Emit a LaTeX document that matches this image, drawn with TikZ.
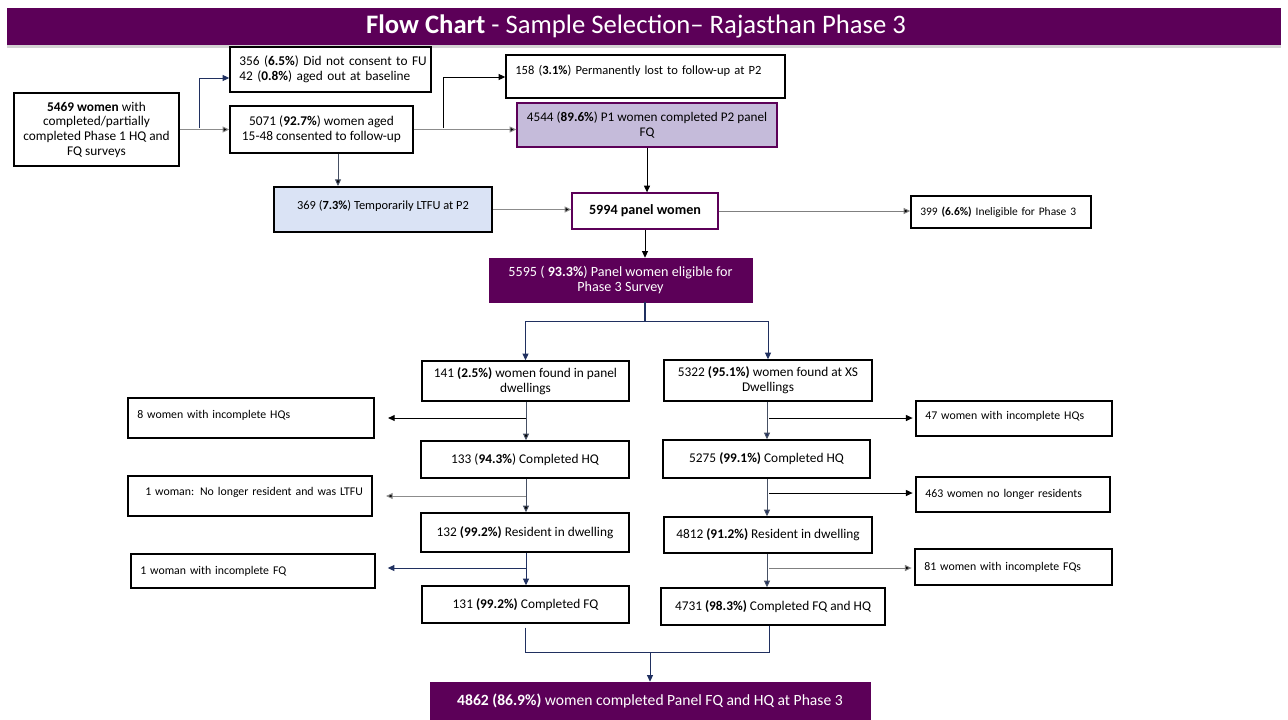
\documentclass[tikz,border=0pt]{standalone}
\usepackage{fontspec}
\setmainfont{Carlito}
\usetikzlibrary{arrows.meta,shadows}
\definecolor{pur}{RGB}{92,0,88}
\definecolor{lav}{RGB}{197,187,218}
\definecolor{lblue}{RGB}{218,227,245}
\definecolor{navy}{RGB}{32,48,96}
\definecolor{lgray}{RGB}{140,140,140}
\definecolor{dgray}{RGB}{70,80,100}
% centred box: lines broken only at \\
\newcommand\bx[7]{%
\pgfmathsetmacro\bxw{(#4-#2)*0.75}%
\pgfmathsetmacro\bxh{(#5-#3)*0.75}%
\node[#6, minimum width=\bxw pt, minimum height=\bxh pt, align=center] (#1) at ({(#2+#4)/2},{(#3+#5)/2}) {#7};}
% left-aligned box (each line kept whole)
\newcommand\bxl[7]{%
\pgfmathsetmacro\bxw{(#4-#2)*0.75}%
\pgfmathsetmacro\bxh{(#5-#3)*0.75}%
\pgfmathsetmacro\bxt{(#4-#2)*0.75-14}%
\node[#6, minimum width=\bxw pt, minimum height=\bxh pt, text width=\bxt pt, align=left] (#1) at ({(#2+#4)/2},{(#3+#5)/2}) {#7};}
\tikzset{
  box/.style={draw=black, line width=1.1pt, fill=white, inner xsep=7pt, inner ysep=1pt},
  pbox/.style={draw=pur, line width=1pt, fill=white, inner xsep=7pt, inner ysep=1pt},
  dbox/.style={draw=pur, fill=pur, text=white, inner xsep=7pt, inner ysep=1pt},
  fa/.style={font=\fontsize{10}{11}\selectfont},
  fb/.style={font=\fontsize{8.85}{10}\selectfont},
  fc/.style={font=\fontsize{8.6}{10}\selectfont},
  fd/.style={font=\fontsize{10.6}{11.5}\selectfont},
  con/.style={line width=0.75pt, -{Triangle[length=5pt,width=4.5pt]}},
  ln/.style={line width=0.75pt},
}
\begin{document}
\begin{tikzpicture}[x=0.75pt,y=-0.75pt]
\useasboundingbox (0,0) rectangle (1288,719);
% title
\bx{title}{7}{8}{1281}{45}{draw=none, fill=pur, text=white, inner xsep=7pt, drop shadow={opacity=0.35, shadow xshift=0pt, shadow yshift=-2pt}, font=\fontsize{20}{22}\selectfont}{\textbf{Flow Chart} - Sample Selection– Rajasthan Phase 3\hspace*{12pt}}
% top nodes
\bx{A}{14}{93}{179}{166}{box,fa}{\textbf{5469 women} with\\completed/partially\\completed Phase 1 HQ and\\FQ surveys}
\bxl{B}{230}{47}{431}{92}{box,fa}{\mbox{356 (\textbf{6.5\%}) Did not consent to FU}\\\mbox{42 (\textbf{0.8\%}) aged out at baseline}}
\bx{C}{230}{106}{413}{153}{box,fa}{5071 (\textbf{92.7\%}) women aged\\15-48 consented to follow-up}
\bxl{D}{506}{55}{785}{98}{box,text depth=9.5pt,font=\fontsize{9.4}{11}\selectfont}{\mbox{158 (\textbf{3.1\%}) Permanently lost to follow-up at P2}}
\bx{E}{517}{103}{777}{147}{draw=pur, line width=1pt, fill=lav, inner xsep=2pt, inner ysep=1pt, font=\fontsize{9.9}{11}\selectfont}{4544 (\textbf{89.6\%}) P1 women completed P2 panel\\FQ}
\bx{F}{274}{187}{492}{232}{draw=black, line width=1.5pt, fill=lblue, inner xsep=7pt, inner ysep=1pt, text depth=7pt, font=\fontsize{9.3}{10}\selectfont}{369 (\textbf{7.3\%}) Temporarily LTFU at P2}
\bx{G}{572}{193}{718}{229}{pbox,fd}{\textbf{5994 panel women}}
\bxl{H}{911}{196}{1091}{228}{box,fc}{\mbox{399 \textbf{(6.6\%)} Ineligible for Phase 3}}
\bx{I}{489}{258}{752}{302}{dbox,fd}{5595 ( \textbf{93.3\%}) Panel women eligible for\\Phase 3 Survey}
% left column
\bx{L1}{422}{361}{629}{401}{box,fa}{141 \textbf{(2.5\%)} women found in panel\\dwellings}
\bx{L2}{421}{441}{629}{478}{box,fa}{133 (\textbf{94.3\%}) Completed HQ}
\bx{L3}{421}{513}{629}{552}{box,fa}{132 \textbf{(99.2\%)} Resident in dwelling}
\bx{L4}{422}{586}{629}{623}{box,fa}{131 \textbf{(99.2\%)} Completed FQ}
\bxl{LS1}{128}{398}{374}{438}{box,fb,text depth=6pt}{\mbox{8 women with incomplete HQs}}
\bxl{LS2}{128}{476}{372}{516}{box,fb,text depth=6.5pt}{\mbox{\hspace*{6pt}1 woman: No longer resident and was LTFU}}
\bxl{LS3}{131}{554}{375}{588}{box,fb}{\mbox{1 woman with incomplete FQ}}
% right column
\bx{R1}{664}{360}{872}{401}{box,fa}{5322 \textbf{(95.1\%)} women found at XS\\Dwellings}
\bx{R2}{663}{440}{870}{478}{box,fa}{5275 \textbf{(99.1\%)} Completed HQ}
\bx{R3}{664}{517}{872}{553}{box,fa}{4812 \textbf{(91.2\%)} Resident in dwelling}
\bx{R4}{661}{588}{885}{625}{box,fa}{4731 \textbf{(98.3\%)} Completed FQ and HQ}
\bxl{RS1}{916}{401}{1112}{436}{box,fb,text depth=4.5pt}{\mbox{47 women with incomplete HQs}}
\bxl{RS2}{916}{477}{1110}{512}{box,fb}{\mbox{463 women no longer residents}}
\bxl{RS3}{915}{549}{1112}{585}{box,fb}{\mbox{81 women with incomplete FQs}}
% final
\bx{FIN}{430}{682}{870}{719}{dbox,font=\fontsize{11.7}{12.5}\selectfont}{\textbf{4862 (86.9\%)} women completed Panel FQ and HQ at Phase 3}
% helper coordinates
\coordinate (jA) at (199,128);
\coordinate (yB) at (0,78);
\coordinate (xC) at (338,0);
\coordinate (jC) at (443,128);
\coordinate (yD) at (0,77);
\coordinate (br) at (645,321);
\coordinate (xL) at (526,0);
\coordinate (jL1) at (526,418);
\coordinate (jL2) at (526,496);
\coordinate (jL3) at (526,568);
\coordinate (xR) at (767,0);
\coordinate (jR1) at (769,418);
\coordinate (jR2) at (769,493);
\coordinate (jR3) at (769,568);
\coordinate (mg) at (650,652);
\coordinate (mr) at (769,652);
% connectors top
\draw[con, draw=lgray, -{Triangle[length=5pt,width=4.5pt,fill=black]}] (A.east) -- (C.west);
\draw[con, navy] (jA) |- (B.west |- yB);
\draw[con, draw=dgray, -{Triangle[length=5pt,width=4.5pt,fill=black]}] (C.south -| xC) -- (F.north -| xC);
\draw[con, draw=lgray, -{Triangle[length=5pt,width=4.5pt,fill=black]}] (C.east) -- (E.west |- C.east);
\draw[con, black] (jC) |- (D.west |- yD);
\draw[con, black] (E.south) -- (E.south |- G.north);
\draw[con, draw=lgray, -{Triangle[length=5pt,width=4.5pt,fill=black]}] (F.east) -- (G.west |- F.east);
\draw[con, draw=gray, -{Triangle[length=5pt,width=4.5pt,fill=black]}] (G.east) -- (H.west |- G.east);
\draw[con, black] (G.south) -- (G.south |- I.north);
% branch
\draw[ln, navy, line width=1pt] (I.south -| br) -- (br);
\draw[con, navy] (br) -| (L1.north);
\draw[con, navy] (br) -| (R1.north);
% left column
\draw[con, draw=dgray, -{Triangle[length=5pt,width=4.5pt,fill=black]}] (L1.south -| xL) -- (L2.north -| xL);
\draw[con, draw=dgray, -{Triangle[length=5pt,width=4.5pt,fill=black]}] (L2.south -| xL) -- (L3.north -| xL);
\draw[con, navy] (L3.south -| xL) -- (L4.north -| xL);
\draw[con, black, shorten >=10pt] (jL1) -- (jL1 -| LS1.east);
\draw[con, draw=lgray, -{Triangle[length=5pt,width=4.5pt,fill=black]}, shorten >=10pt] (jL2) -- (jL2 -| LS2.east);
\draw[con, navy, shorten >=9pt] (jL3) -- (jL3 -| LS3.east);
% right column
\draw[con, draw=dgray, -{Triangle[length=5pt,width=4.5pt,fill=navy]}] (R1.south -| xR) -- (R2.north -| xR);
\draw[con, draw=dgray, -{Triangle[length=5pt,width=4.5pt,fill=navy]}] (R2.south -| xR) -- (R3.north -| xR);
\draw[con, draw=dgray, -{Triangle[length=5pt,width=4.5pt,fill=navy]}] (R3.south -| xR) -- (R4.north -| xR);
\draw[con, black, shorten >=2pt] (jR1) -- (jR1 -| RS1.west);
\draw[con, black, shorten >=2pt] (jR2) -- (jR2 -| RS2.west);
\draw[con, draw=gray, -{Triangle[length=5pt,width=4.5pt,fill=black]}, shorten >=2pt] (jR3) -- (jR3 -| RS3.west);
% merge
\draw[ln, navy, shorten <=3pt] (L4.south) |- (mr) -- (R4.south -| mr);
\draw[con, navy] (mg) -- (FIN.north);
\end{tikzpicture}
\end{document}
